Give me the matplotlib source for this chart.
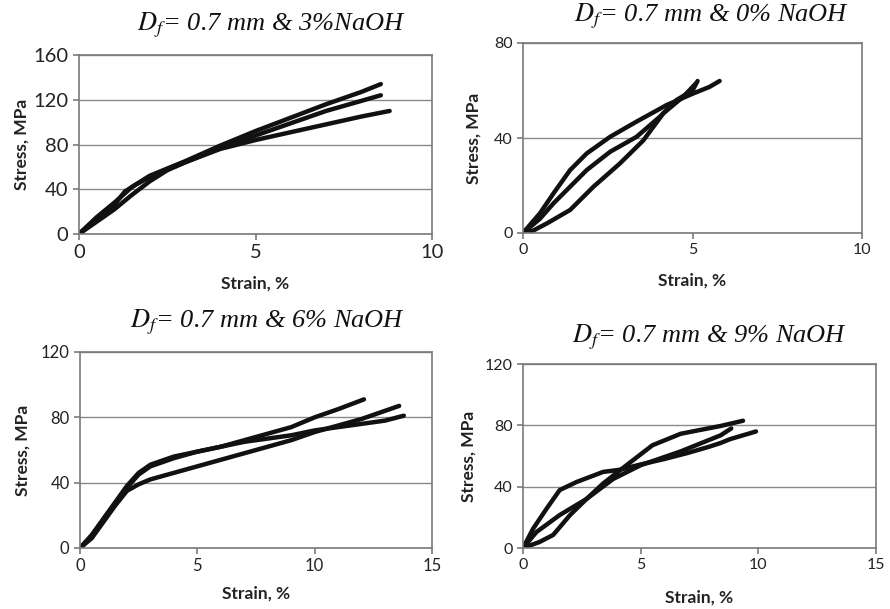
import matplotlib
matplotlib.use("Agg")
import matplotlib.pyplot as plt

plt.rcParams['font.family'] = ['Lato', 'DejaVu Sans']
plt.rcParams['mathtext.fontset'] = 'stix'

# --- data (strain %, stress MPa) ---
# 3% NaOH
s3_a_x = [0, 0.5, 1, 1.5, 2, 3, 4, 5, 6, 7, 8, 8.55]
s3_a_y = [0, 15, 28, 42, 52, 65, 79, 92, 104, 116, 127, 134]
s3_b_x = [0, 0.5, 1, 1.5, 2, 2.5, 3, 4, 5, 6, 7, 8, 8.55]
s3_b_y = [0, 11, 22, 35, 47, 57, 64, 77, 88, 99, 110, 119, 124]
s3_c_x = [0, 0.5, 1, 1.3, 1.6, 2, 3, 4, 5, 6, 7, 8, 8.8]
s3_c_y = [0, 14, 26, 38, 44, 51, 64, 76, 84, 91, 98, 105, 110]

# 0% NaOH
s0_a_x = [0, 0.5, 0.9, 1.39, 1.88, 2.57, 3.35, 4.24, 5.03, 5.5, 5.8]
s0_a_y = [0, 8.3, 16.7, 26.5, 33.5, 40.5, 46.9, 53.9, 58.8, 61.5, 64]
s0_b_x = [0, 0.5, 0.9, 1.39, 1.88, 2.57, 3.35, 4.04, 4.53, 5.0, 5.15]
s0_b_y = [0, 6, 12.5, 19.5, 26.5, 34.2, 40.5, 49, 56, 60, 64]
s0_c_x = [0, 0.3, 0.7, 1.39, 2.08, 2.86, 3.55, 4.14, 4.73, 5.1]
s0_c_y = [0, 1, 4, 9.7, 19.5, 29.3, 39, 50.4, 57.4, 63]

# 6% NaOH
s6_a_x = [0, 0.5, 1, 1.5, 2, 2.5, 3, 4, 5, 6, 7, 8, 9, 10, 11, 12.1]
s6_a_y = [0, 8, 18, 28, 38, 46, 51, 56, 59, 62, 66, 70, 74, 80, 85, 91]
s6_b_x = [0, 0.5, 1, 1.5, 2, 2.5, 3, 4, 5, 6, 7, 8, 9, 10, 11, 12, 13, 13.6]
s6_b_y = [0, 6, 16, 26, 35, 39, 42, 46, 50, 54, 58, 62, 66, 71, 75, 79, 84, 87]
s6_c_x = [0, 0.5, 1, 1.5, 2, 2.5, 3, 4, 5, 6, 7, 8, 9, 10, 11, 12, 13, 13.8]
s6_c_y = [0, 7, 17, 27, 37, 45, 50, 55, 59, 62, 65, 67, 69, 72, 74, 76, 78, 81]

# 9% NaOH
s9_a_x = [0, 0.43, 1.0, 1.56, 2.27, 3.4, 4.1, 5, 6, 7, 7.9, 8.4, 8.8, 9.9]
s9_a_y = [0, 12.6, 25.6, 37.8, 43, 49.6, 51, 54.5, 58, 62, 66, 68.5, 71, 76]
s9_b_x = [0, 0.7, 1.28, 2, 2.7, 3.4, 4.4, 5.5, 6.7, 8.4, 9.35]
s9_b_y = [0, 3.9, 8.5, 21.5, 32, 42, 54, 67, 74.5, 79.6, 83]
s9_c_x = [0, 0.57, 1.56, 2.7, 3.83, 5, 6.7, 8.4, 8.85]
s9_c_y = [0, 10.4, 21.5, 32, 45, 54, 63, 73.5, 78]

W, H = 890, 609
fig = plt.figure(figsize=(W / 100, H / 100), dpi=100)


def px_axes(l, t, r, b):
    return fig.add_axes([l / W, 1 - b / H, (r - l) / W, (b - t) / H])


panels = [
    dict(box=(79, 55, 432, 234), xlim=(0, 10), xt=[0, 5, 10], ylim=(0, 160), yt=[0, 40, 80, 120, 160],
         curves=[(s3_a_x, s3_a_y), (s3_b_x, s3_b_y), (s3_c_x, s3_c_y)],
         title=r'$D_f$= 0.7 mm & 3%NaOH', tpos=(271, 25), fs=14.5, xpad=10, ypad=3),
    dict(box=(523, 43, 862, 233), xlim=(0, 10), xt=[0, 5, 10], ylim=(0, 80), yt=[0, 40, 80],
         curves=[(s0_a_x, s0_a_y), (s0_b_x, s0_b_y), (s0_c_x, s0_c_y)],
         title=r'$D_f$= 0.7 mm & 0% NaOH', tpos=(712, 16), fs=11.5, xpad=11, ypad=9),
    dict(box=(80, 352, 432, 548), xlim=(0, 15), xt=[0, 5, 10, 15], ylim=(0, 120), yt=[0, 40, 80, 120],
         curves=[(s6_a_x, s6_a_y), (s6_b_x, s6_b_y), (s6_c_x, s6_c_y)],
         title=r'$D_f$= 0.7 mm & 6% NaOH', tpos=(268, 322), fs=12, xpad=8, ypad=7),
    dict(box=(523, 364, 876, 548), xlim=(0, 15), xt=[0, 5, 10, 15], ylim=(0, 120), yt=[0, 40, 80, 120],
         curves=[(s9_a_x, s9_a_y), (s9_b_x, s9_b_y), (s9_c_x, s9_c_y)],
         title=r'$D_f$= 0.7 mm & 9% NaOH', tpos=(710, 337), fs=11.5, xpad=12, ypad=6),
]

for p in panels:
    ax = px_axes(*p['box'])
    for x, y in p['curves']:
        ax.plot(x, y, color='#111111', lw=3.2, solid_capstyle='round', solid_joinstyle='round')
    ax.set_xlim(*p['xlim'])
    ax.set_ylim(*p['ylim'])
    ax.set_xticks(p['xt'])
    ax.set_yticks(p['yt'])
    ax.yaxis.grid(True, color='#8a8a8a', lw=1)
    ax.set_axisbelow(True)
    for s in ax.spines.values():
        s.set_color('#7a7a7a')
        s.set_linewidth(1.2)
    ax.tick_params(colors='#7a7a7a', labelcolor='#222222', labelsize=p['fs'], length=4, width=1.2)
    ax.set_xlabel('Strain, %', fontsize=12.5, fontweight='bold', color='#222222', labelpad=p['xpad'])
    ax.set_ylabel('Stress, MPa', fontsize=12.5, fontweight='bold', color='#222222', labelpad=p['ypad'])
    fig.text(p['tpos'][0] / W, 1 - p['tpos'][1] / H, p['title'], ha='center', va='center',
             fontsize=19, family='Liberation Serif', style='italic', color='#111111')

fig.savefig('out.png', dpi=100, facecolor='white')
